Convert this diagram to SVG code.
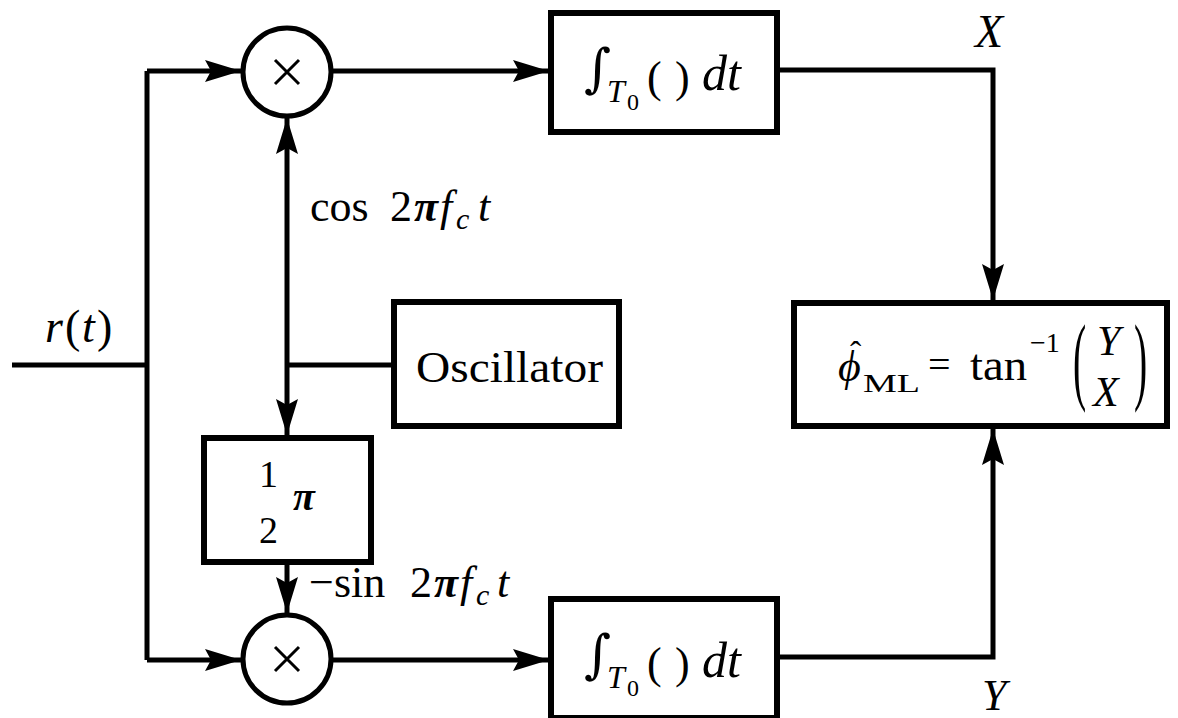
<svg xmlns="http://www.w3.org/2000/svg" width="1178" height="718" viewBox="0 0 1178 718">
<style>
.ln{fill:none;stroke:#000;stroke-width:5}
.bx{fill:#fff;stroke:#000;stroke-width:6}
.t{font-family:'Liberation Serif','Times New Roman','DejaVu Serif',serif;fill:#000}
.d{font-family:'DejaVu Serif','Liberation Serif',serif}
.i{font-style:italic}
.b{font-weight:bold;font-style:italic}
</style>
<defs>
<marker id="ah" markerUnits="userSpaceOnUse" markerWidth="36" markerHeight="24" refX="36" refY="12" orient="auto">
<path d="M0,1 L36,12 L0,23 L6,12 z" fill="#000"/>
</marker>
</defs>
<rect width="1178" height="718" fill="#fff"/>
<g id="connectors">
<path class="ln" d="M12,365 H147"/>
<path class="ln" d="M147,71 V660"/>
<path class="ln" d="M147,71 H241" marker-end="url(#ah)"/>
<path class="ln" d="M147,660 H241" marker-end="url(#ah)"/>
<path class="ln" d="M331,71 H549" marker-end="url(#ah)"/>
<path class="ln" d="M331,660 H549" marker-end="url(#ah)"/>
<path class="ln" d="M778,70 H993 V300" marker-end="url(#ah)"/>
<path class="ln" d="M778,657 H993 V429" marker-end="url(#ah)"/>
<path class="ln" d="M393,365 H287"/>
<path class="ln" d="M287,365 V118" marker-end="url(#ah)"/>
<path class="ln" d="M287,365 V435" marker-end="url(#ah)"/>
<path class="ln" d="M287,563 V613" marker-end="url(#ah)"/>
</g>
<g id="mult1">
<circle cx="287" cy="72" r="44" fill="#fff" stroke="#000" stroke-width="5"/>
<path d="M275,60 L299,84 M299,60 L275,84" stroke="#000" stroke-width="3"/>
</g>
<g id="mult2">
<circle cx="287" cy="659" r="44" fill="#fff" stroke="#000" stroke-width="5"/>
<path d="M275,647 L299,671 M299,647 L275,671" stroke="#000" stroke-width="3"/>
</g>
<g id="integ1">
<rect class="bx" x="551" y="13" width="226" height="119"/>
<text class="t d" x="584" y="86" font-size="52">∫</text>
<text class="t" y="102" font-size="32"><tspan class="i" x="607">T</tspan><tspan x="627" y="110" font-size="24">0</tspan></text>
<text class="t" y="92" font-size="44"><tspan x="647">(</tspan><tspan x="675">)</tspan></text>
<text class="t i" x="702" y="90" font-size="50">dt</text>
</g>
<g id="integ2">
<rect class="bx" x="551" y="599" width="226" height="119"/>
<text class="t d" x="584" y="672" font-size="52">∫</text>
<text class="t" y="688" font-size="32"><tspan class="i" x="607">T</tspan><tspan x="627" y="696" font-size="24">0</tspan></text>
<text class="t" y="678" font-size="44"><tspan x="647">(</tspan><tspan x="675">)</tspan></text>
<text class="t i" x="702" y="677" font-size="50">dt</text>
</g>
<g id="oscillator">
<rect class="bx" x="394" y="302" width="225" height="124"/>
<text class="t" x="416" y="382" font-size="45" textLength="187" lengthAdjust="spacingAndGlyphs">Oscillator</text>
</g>
<g id="phase">
<rect class="bx" x="204" y="438" width="167" height="124"/>
<text class="t" font-size="38"><tspan x="259" y="487">1</tspan><tspan x="259" y="543">2</tspan><tspan class="b" x="293" y="510" font-size="40">π</tspan></text>
</g>
<g id="estimator">
<rect class="bx" x="794" y="303" width="373" height="123"/>
<text class="t" font-size="44"><tspan x="850" y="365" font-size="34">ˆ</tspan><tspan class="i" x="838" y="381">ϕ</tspan><tspan x="863" y="392" font-size="26" textLength="57" lengthAdjust="spacingAndGlyphs">ML</tspan><tspan x="928" y="378" font-size="40">=</tspan><tspan x="970" y="380" textLength="57" lengthAdjust="spacingAndGlyphs">tan</tspan><tspan x="1030" y="352" font-size="28">−1</tspan></text>
<text class="t" transform="translate(1073,392) scale(0.9,2.2)" font-size="44">(</text>
<text class="t i" font-size="42"><tspan x="1097" y="355">Y</tspan><tspan x="1093" y="406">X</tspan></text>
<text class="t" transform="translate(1134,392) scale(0.9,2.2)" font-size="44">)</text>
</g>
<g id="labels">
<text class="t" y="342" font-size="46"><tspan class="i" x="45">r</tspan><tspan x="65">(</tspan><tspan class="i" x="82">t</tspan><tspan x="97">)</tspan></text>
<text class="t" y="221" font-size="44"><tspan x="310">cos</tspan><tspan x="390">2</tspan><tspan class="b" x="414">π</tspan><tspan class="i" x="440">f</tspan><tspan class="i" x="456" y="229" font-size="30">c</tspan><tspan class="i" x="478" y="221">t</tspan></text>
<text class="t" y="597" font-size="44"><tspan x="309">−</tspan><tspan x="334">sin</tspan><tspan x="410">2</tspan><tspan class="b" x="434">π</tspan><tspan class="i" x="460">f</tspan><tspan class="i" x="476" y="605" font-size="30">c</tspan><tspan class="i" x="497" y="597">t</tspan></text>
<text class="t i" x="975" y="47" font-size="46">X</text>
<text class="t i" x="982" y="710" font-size="44">Y</text>
</g>
</svg>
